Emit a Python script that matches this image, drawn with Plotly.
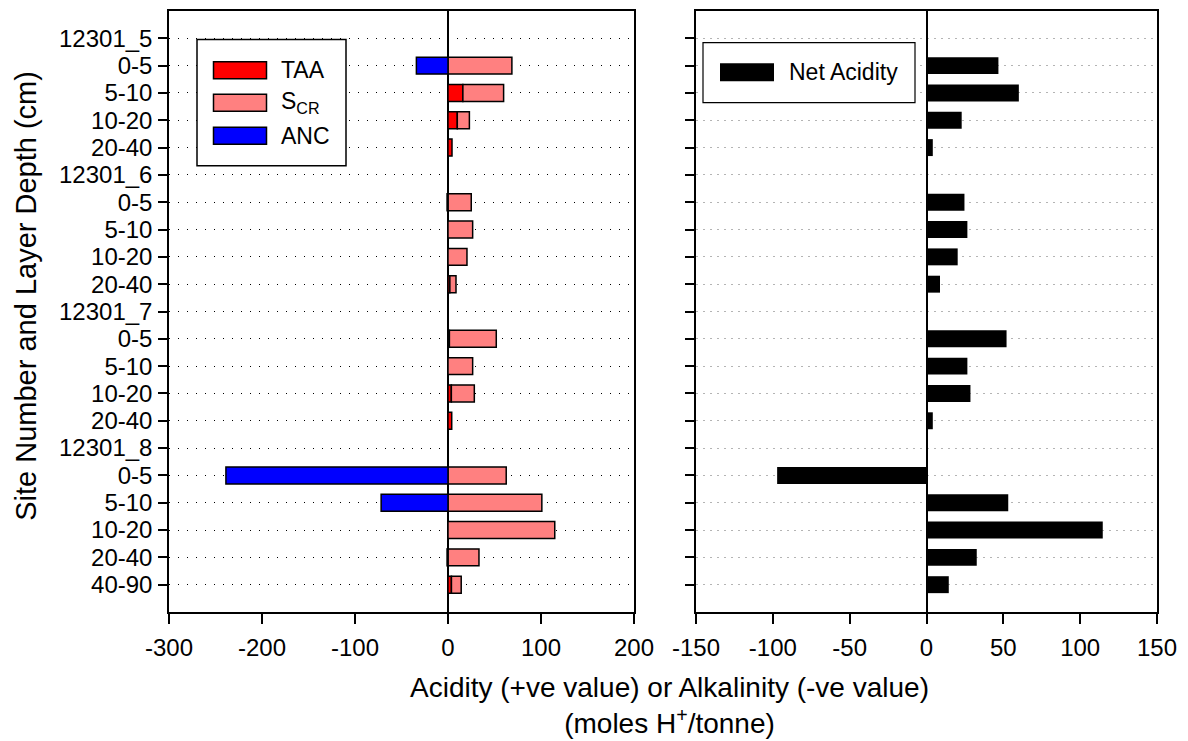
import plotly.graph_objects as go

# ---------------- data ----------------
labels = ["12301_5", "0-5", "5-10", "10-20", "20-40",
          "12301_6", "0-5", "5-10", "10-20", "20-40",
          "12301_7", "0-5", "5-10", "10-20", "20-40",
          "12301_8", "0-5", "5-10", "10-20", "20-40", "40-90"]
taa = [None, None, 16.0, 10.0, 4.3,
       None, None, None, None, 2.0,
       None, 1.5, None, 3.6, 4.0,
       None, None, None, None, None, 3.7]
scr = [None, 68.7, 43.8, 13.0, None,
       None, 25.0, 26.5, 20.4, 6.6,
       None, 50.4, 26.5, 24.7, None,
       None, 62.6, 100.9, 114.8, 33.3, 10.5]
anc = [None, -34.0, None, None, None,
       None, -1.0, None, None, None,
       None, None, None, None, None,
       None, -238.8, -71.9, None, -1.0, None]
net = [None, 46.8, 60.1, 22.9, 4.1,
       None, 24.7, 26.6, 20.3, 8.8,
       None, 52.1, 26.6, 28.6, 4.1,
       None, -97.2, 53.2, 114.7, 32.7, 14.5]
left_ticks = [-300, -200, -100, 0, 100, 200]
left_tick_text = ["-300", "-200", "-100", "0", "100", "200"]
right_ticks = [-150, -100, -50, 0, 50, 100, 150]
right_tick_text = ["-150", "-100", "-50", "0", "50", "100", "150"]

rows = list(range(len(labels)))
FONT = "Liberation Sans, Arial, sans-serif"

# page body has an 8px margin; figure is sized/placed to compensate
OFF = 8
FW, FH = 1188 - OFF, 741 - OFF
# plot-area edges in reference (window) pixels
RL, RR, RT, RB = 169, 1157, 11.4, 612
PL, PR, PT, PB = RL - OFF, RR - OFF, RT - OFF, RB - OFF

def px(x):  # reference window pixel -> paper x
    return (x - RL) / (RR - RL)
def py(y):  # reference window pixel -> paper y
    return (RB - y) / (RB - RT)

fig = go.Figure()
bw = 0.62
fig.add_trace(go.Bar(y=rows, x=taa, orientation="h", name="TAA", width=bw,
                     marker=dict(color="#ff0000", line=dict(color="black", width=1.5)),
                     xaxis="x", yaxis="y", showlegend=False))
fig.add_trace(go.Bar(y=rows, x=scr, orientation="h", name="S<sub>CR</sub>", width=bw,
                     marker=dict(color="#ff8080", line=dict(color="black", width=1.5)),
                     xaxis="x", yaxis="y", showlegend=False))
fig.add_trace(go.Bar(y=rows, x=anc, orientation="h", name="ANC", width=bw,
                     marker=dict(color="#0000ff", line=dict(color="black", width=1.5)),
                     xaxis="x", yaxis="y", showlegend=False))
fig.add_trace(go.Bar(y=rows, x=net, orientation="h", name="Net Acidity", width=bw,
                     marker=dict(color="#000000", line=dict(color="black", width=0)),
                     xaxis="x2", yaxis="y2", showlegend=False))

axis_common = dict(showline=True, linecolor="black", linewidth=1.5, mirror=True,
                   ticks="outside", tickcolor="black", tickwidth=1.5, automargin=False,
                   tickfont=dict(family=FONT, size=24, color="black"))

fig.update_layout(
    width=FW, height=FH,
    margin=dict(l=PL, r=FW - PR, t=PT, b=FH - PB, pad=0),
    paper_bgcolor="white", plot_bgcolor="white",
    barmode="relative",
    showlegend=False,
    font=dict(family=FONT, color="black"),
    xaxis=dict(domain=[0, px(634)], range=[-300, 200], tickvals=left_ticks,
               ticktext=left_tick_text,
               ticklen=10, ticklabelstandoff=3, showgrid=False,
               zeroline=True, zerolinecolor="black", zerolinewidth=1.5,
               anchor="y", **axis_common),
    yaxis=dict(range=[21, -1], tickvals=rows, ticktext=labels, ticklen=9,
               ticklabelstandoff=1, showgrid=True, gridcolor="black", gridwidth=1,
               griddash="1px,8px", zeroline=False, anchor="x", **axis_common),
    xaxis2=dict(domain=[px(696), 1], range=[-150, 150], tickvals=right_ticks,
                ticktext=right_tick_text,
                ticklen=10, ticklabelstandoff=3, showgrid=False,
                zeroline=True, zerolinecolor="black", zerolinewidth=1.5,
                anchor="y2", **axis_common),
    yaxis2=dict(range=[21, -1], tickvals=rows, showticklabels=False, ticklen=9,
                showgrid=True, gridcolor="#b4b4b4", gridwidth=1,
                griddash="1.5px,5.5px", zeroline=False, anchor="x2", **axis_common),
)

shapes = []
annotations = []
# left legend box
shapes.append(dict(type="rect", xref="paper", yref="paper",
                   x0=px(197), x1=px(346), y0=py(166), y1=py(40),
                   line=dict(color="black", width=1.5), fillcolor="white", layer="above"))
leg = [("TAA", "#ff0000", 70.5), ("S<sub>CR</sub>", "#ff8080", 103), ("ANC", "#0000ff", 136)]
for txt, col, yc in leg:
    shapes.append(dict(type="rect", xref="paper", yref="paper",
                       x0=px(213.5), x1=px(266.5), y0=py(yc + 8.5), y1=py(yc - 8.5),
                       line=dict(color="black", width=1.5), fillcolor=col, layer="above"))
    annotations.append(dict(text=txt, xref="paper", yref="paper", x=px(279), y=py(yc),
                            xanchor="left", yanchor="middle", showarrow=False,
                            font=dict(family=FONT, size=23, color="black")))
# right legend box
shapes.append(dict(type="rect", xref="paper", yref="paper",
                   x0=px(703), x1=px(915), y0=py(103), y1=py(43),
                   line=dict(color="black", width=1.2), fillcolor="white", layer="above"))
shapes.append(dict(type="rect", xref="paper", yref="paper",
                   x0=px(720), x1=px(774), y0=py(81.5), y1=py(63.5),
                   line=dict(color="black", width=0), fillcolor="black", layer="above"))
annotations.append(dict(text="Net Acidity", xref="paper", yref="paper", x=px(787), y=py(72.5),
                        xanchor="left", yanchor="middle", showarrow=False,
                        font=dict(family=FONT, size=23, color="black")))
# axis titles
annotations.append(dict(text="Acidity (+ve value) or Alkalinity (-ve value)<br>(moles H<sup>+</sup>/tonne)",
                        xref="paper", yref="paper", x=px(669), y=py(705),
                        xanchor="center", yanchor="middle", showarrow=False, align="center",
                        font=dict(family=FONT, size=28, color="black")))
annotations.append(dict(text="Site Number and Layer Depth (cm)",
                        xref="paper", yref="paper", x=px(26), y=py(296),
                        xanchor="center", yanchor="middle", showarrow=False, textangle=-90,
                        font=dict(family=FONT, size=29, color="black")))
fig.update_layout(shapes=shapes, annotations=annotations)

fig.write_html("out.html")
